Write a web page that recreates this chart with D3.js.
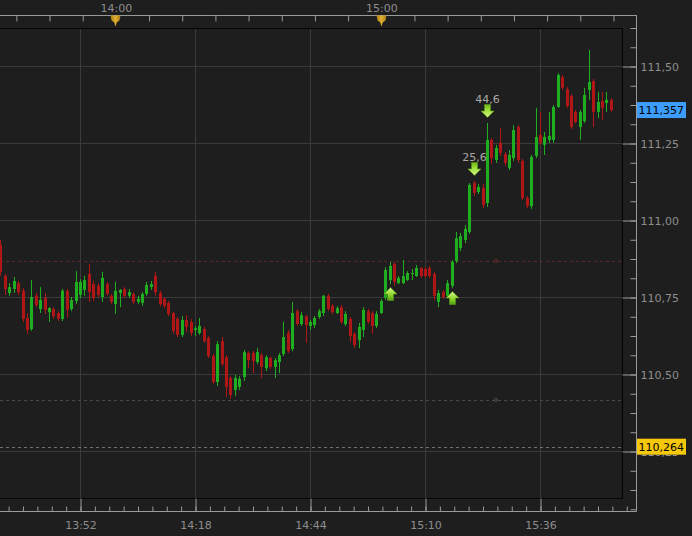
<!DOCTYPE html>
<html><head><meta charset="utf-8">
<script src="https://cdn.jsdelivr.net/npm/d3@7/dist/d3.min.js"></script>
<style>
html,body{margin:0;padding:0;background:#1e1e1e;overflow:hidden;}
svg{display:block;}
</style></head><body>
<svg id="chart" width="692" height="536"></svg>
<script>
// ---------- DATA ----------
const firstBar = "13:34";           // one-minute candles
const open = [
110.919,110.819,110.763,110.776,110.795,110.770,110.682,110.646,110.754,110.711,
110.747,110.701,110.711,110.698,110.679,110.770,110.711,110.737,110.757,110.773,
110.825,110.792,110.786,110.750,110.792,110.754,110.727,110.763,110.776,110.754,
110.760,110.734,110.731,110.760,110.782,110.819,110.763,110.744,110.731,110.698,
110.679,110.627,110.675,110.669,110.643,110.633,110.646,110.617,110.558,110.474,
110.607,110.555,110.487,110.448,110.458,110.490,110.568,110.568,110.539,110.561,
110.519,110.552,110.523,110.539,110.565,110.633,110.581,110.704,110.662,110.688,
110.656,110.659,110.685,110.698,110.754,110.721,110.698,110.717,110.662,110.679,
110.630,110.610,110.643,110.704,110.698,110.656,110.698,110.747,110.805,110.857,
110.795,110.795,110.805,110.825,110.818,110.844,110.841,110.844,110.825,110.734,
110.766,110.754,110.786,110.867,110.909,110.935,110.961,111.120,111.091,111.104,
111.055,111.260,111.195,111.250,111.214,111.169,111.201,111.302,111.192,111.071,
111.045,111.208,111.276,111.244,111.260,111.260,111.367,111.464,111.425,111.403,
111.351,111.302,111.321,111.422,111.451,111.351,111.386,111.380,111.390
];
const high = [
110.935,110.825,110.795,110.815,110.802,110.779,110.698,110.805,110.763,110.782,
110.763,110.717,110.717,110.704,110.776,110.776,110.750,110.834,110.808,110.819,
110.857,110.802,110.795,110.832,110.799,110.760,110.799,110.776,110.782,110.776,
110.766,110.754,110.766,110.799,110.802,110.832,110.770,110.750,110.737,110.701,
110.685,110.688,110.691,110.679,110.656,110.682,110.653,110.623,110.565,110.607,
110.620,110.561,110.493,110.497,110.493,110.578,110.574,110.574,110.584,110.568,
110.561,110.558,110.552,110.568,110.669,110.643,110.734,110.711,110.701,110.691,
110.675,110.688,110.711,110.757,110.760,110.727,110.721,110.724,110.704,110.685,
110.636,110.666,110.717,110.711,110.704,110.704,110.744,110.847,110.864,110.864,
110.818,110.870,110.834,110.841,110.854,110.847,110.847,110.851,110.832,110.773,
110.773,110.805,110.870,110.961,110.958,110.984,111.120,111.127,111.117,111.117,
111.315,111.266,111.244,111.299,111.221,111.227,111.308,111.308,111.198,111.078,
111.211,111.364,111.351,111.286,111.351,111.373,111.477,111.471,111.432,111.409,
111.357,111.357,111.429,111.552,111.458,111.416,111.416,111.416,111.396
];
const low = [
110.819,110.757,110.754,110.763,110.757,110.669,110.630,110.640,110.717,110.698,
110.695,110.669,110.679,110.672,110.672,110.682,110.704,110.727,110.747,110.754,
110.734,110.737,110.750,110.734,110.754,110.727,110.695,110.717,110.747,110.747,
110.727,110.727,110.721,110.754,110.773,110.754,110.721,110.714,110.688,110.630,
110.620,110.620,110.636,110.623,110.623,110.627,110.601,110.552,110.468,110.461,
110.526,110.425,110.419,110.429,110.448,110.477,110.519,110.503,110.532,110.487,
110.510,110.516,110.487,110.503,110.558,110.568,110.574,110.656,110.656,110.601,
110.643,110.649,110.679,110.688,110.704,110.695,110.695,110.662,110.656,110.604,
110.584,110.584,110.620,110.662,110.630,110.649,110.695,110.740,110.792,110.786,
110.792,110.792,110.802,110.805,110.815,110.812,110.812,110.812,110.740,110.717,
110.744,110.747,110.779,110.860,110.899,110.925,110.955,111.078,111.084,111.039,
111.042,111.182,111.185,111.208,111.175,111.162,111.192,111.185,111.065,111.039,
111.036,111.201,111.244,111.211,111.250,111.250,111.364,111.422,111.364,111.295,
111.312,111.260,111.315,111.390,111.302,111.331,111.325,111.351,111.351
];
const close = [
110.832,110.776,110.782,110.802,110.766,110.679,110.643,110.750,110.724,110.740,
110.708,110.714,110.688,110.679,110.770,110.708,110.740,110.799,110.799,110.805,
110.766,110.747,110.757,110.812,110.760,110.734,110.770,110.773,110.754,110.766,
110.734,110.744,110.760,110.789,110.792,110.766,110.727,110.721,110.695,110.640,
110.627,110.675,110.653,110.633,110.649,110.656,110.607,110.558,110.474,110.597,
110.532,110.458,110.432,110.487,110.484,110.571,110.545,110.542,110.571,110.523,
110.555,110.523,110.545,110.561,110.620,110.574,110.698,110.662,110.691,110.659,
110.669,110.682,110.704,110.754,110.711,110.701,110.714,110.669,110.695,110.623,
110.594,110.653,110.708,110.669,110.656,110.695,110.737,110.838,110.851,110.799,
110.812,110.818,110.828,110.828,110.844,110.818,110.818,110.818,110.754,110.763,
110.750,110.795,110.864,110.941,110.948,110.971,111.114,111.088,111.107,111.049,
111.260,111.201,111.234,111.218,111.185,111.211,111.292,111.195,111.071,111.045,
111.205,111.270,111.250,111.270,111.273,111.367,111.471,111.429,111.370,111.302,
111.318,111.351,111.406,111.448,111.351,111.383,111.364,111.390,111.357
];
const priceTicks = [110.25, 110.50, 110.75, 111.00, 111.25, 111.50];
const bottomTickLabels = ["13:52", "14:18", "14:44", "15:10", "15:36"];
const topTickLabels = ["14:00", "15:00"];
const lastPrice = 111.357;
const markedPrice = 110.264;
const redLevel = 110.867;
const greyLevel = 110.416;
const levelMarkerBar = 112;
const signalBar = [88, 102, 107, 110];
const signalType = ["up", "up", "down", "down"];
const signalText = ["", "", "25,6", "44,6"];

// ---------- SETUP ----------
const W = 692, H = 536;
const plot = {left: 0, top: 28, right: 622, bottom: 498};
const axisTopY = 15, axisRightX = 636, axisBottomY = 511;
const axisColor = "#9a9a9a", textColor = "#8d8d8d", gridColor = "#3a3a3a";
const upColor = "#1fae1f", downColor = "#b01616";
const font = "DejaVu Sans, Verdana, sans-serif";

const parseHM = d3.timeParse("%H:%M");
const fmtHM = d3.timeFormat("%H:%M");
const t0 = parseHM(firstBar);
const bars = open.map((o, i) => ({
  t: d3.timeMinute.offset(t0, i), o, h: high[i], l: low[i], c: close[i]
}));

const majorTimes = bottomTickLabels.map(parseHM);
const x = d3.scaleTime().domain([majorTimes[0], majorTimes[majorTimes.length - 1]]).range([80, 540]);
const y = d3.scaleLinear().domain([priceTicks[0], priceTicks[priceTicks.length - 1]]).range([451, 66]);

const svg = d3.select("#chart");
svg.append("rect").attr("width", W).attr("height", H).attr("fill", "#1e1e1e");

const defs = svg.append("defs");
defs.append("clipPath").attr("id", "clip").append("rect")
  .attr("x", plot.left).attr("y", plot.top).attr("width", plot.right - plot.left).attr("height", plot.bottom - plot.top);
const gUp = defs.append("linearGradient").attr("id", "gUp").attr("x1", 0).attr("y1", 0).attr("x2", 0).attr("y2", 1);
gUp.append("stop").attr("offset", "0%").attr("stop-color", "#d9f98e");
gUp.append("stop").attr("offset", "55%").attr("stop-color", "#8fd52c");
gUp.append("stop").attr("offset", "100%").attr("stop-color", "#4f9e12");
const gDn = defs.append("linearGradient").attr("id", "gDn").attr("x1", 0).attr("y1", 0).attr("x2", 0).attr("y2", 1);
gDn.append("stop").attr("offset", "0%").attr("stop-color", "#6cb51a");
gDn.append("stop").attr("offset", "45%").attr("stop-color", "#9ee03a");
gDn.append("stop").attr("offset", "100%").attr("stop-color", "#d4f58a");
const gGold = defs.append("linearGradient").attr("id", "gGold").attr("x1", 0).attr("y1", 0).attr("x2", 1).attr("y2", 0);
gGold.append("stop").attr("offset", "0%").attr("stop-color", "#a87a10");
gGold.append("stop").attr("offset", "50%").attr("stop-color", "#e0b030");
gGold.append("stop").attr("offset", "100%").attr("stop-color", "#a87a10");

// ---------- GRID ----------
const grid = svg.append("g");
grid.selectAll("line.h").data(priceTicks).join("line")
  .attr("x1", plot.left).attr("x2", plot.right)
  .attr("y1", d => Math.round(y(d)) + 0.5).attr("y2", d => Math.round(y(d)) + 0.5)
  .attr("stroke", gridColor);
grid.selectAll("line.v").data(majorTimes).join("line")
  .attr("x1", d => Math.round(x(d)) + 0.5).attr("x2", d => Math.round(x(d)) + 0.5)
  .attr("y1", plot.top).attr("y2", plot.bottom)
  .attr("stroke", gridColor);

// reference levels
const lv = svg.append("g").attr("clip-path", "url(#clip)");
function level(p, color) {
  const yy = Math.round(y(p)) + 0.5;
  lv.append("line").attr("x1", plot.left).attr("x2", plot.right).attr("y1", yy).attr("y2", yy)
    .attr("stroke", color).attr("stroke-dasharray", "3,3");
}
level(redLevel, "#5a2a2a");
level(greyLevel, "#4a4a4a");
level(markedPrice, "#707070");
[[redLevel, "#6a3030"], [greyLevel, "#555"]].forEach(([p, c]) => {
  lv.append("circle").attr("cx", x(bars[levelMarkerBar].t)).attr("cy", y(p)).attr("r", 1.6)
    .attr("fill", "none").attr("stroke", c);
});

// ---------- CANDLES ----------
const cg = svg.append("g").attr("clip-path", "url(#clip)");
const cand = cg.selectAll("g.c").data(bars).join("g");
cand.append("line")
  .attr("x1", d => Math.round(x(d.t)) + 0.5).attr("x2", d => Math.round(x(d.t)) + 0.5)
  .attr("y1", d => y(d.h)).attr("y2", d => y(d.l))
  .attr("stroke", d => d.c >= d.o ? upColor : downColor).attr("stroke-width", 1);
cand.append("rect")
  .attr("x", d => Math.round(x(d.t)) - 1).attr("width", 3)
  .attr("y", d => y(Math.max(d.o, d.c)))
  .attr("height", d => Math.max(1.2, Math.abs(y(d.o) - y(d.c))))
  .attr("fill", d => d.c >= d.o ? upColor : downColor);

// ---------- SIGNALS ----------
const sg = svg.append("g");
const upPath = "M0,0 L6.5,6.5 L3,6.5 L3,13 L-3,13 L-3,6.5 L-6.5,6.5 Z";
const dnPath = "M0,0 L6.5,-6.5 L3,-6.5 L3,-13 L-3,-13 L-3,-6.5 L-6.5,-6.5 Z";
signalBar.forEach((bi, k) => {
  const b = bars[bi];
  const cx = Math.round(x(b.t)) + 0.5;
  if (signalType[k] === "up") {
    const top = y(b.l) + 3.5;
    sg.append("path").attr("d", upPath).attr("transform", `translate(${cx},${top})`)
      .attr("fill", "url(#gUp)").attr("stroke", "#5a9a18").attr("stroke-width", 0.6);
  } else {
    const tip = y(b.h) - 5.5;
    sg.append("path").attr("d", dnPath).attr("transform", `translate(${cx},${tip})`)
      .attr("fill", "url(#gDn)").attr("stroke", "#5a9a18").attr("stroke-width", 0.6);
    sg.append("text").attr("x", cx).attr("y", tip - 14.5).attr("text-anchor", "middle")
      .attr("font-family", font).attr("font-size", 11).attr("fill", "#a8a8a8")
      .text(signalText[k]);
  }
});

// ---------- PLOT FRAME ----------
const fr = svg.append("g").attr("stroke", "#050505").attr("stroke-width", 1.2).attr("fill", "none");
fr.append("line").attr("x1", 0).attr("x2", plot.right + 0.5).attr("y1", plot.top + 0.5).attr("y2", plot.top + 0.5);
fr.append("line").attr("x1", plot.right + 0.5).attr("x2", plot.right + 0.5).attr("y1", plot.top).attr("y2", plot.bottom + 0.5);
fr.append("line").attr("x1", 0).attr("x2", plot.right + 0.5).attr("y1", plot.bottom + 0.5).attr("y2", plot.bottom + 0.5);

// ---------- AXES ----------
function styleAxis(g) {
  g.select(".domain").remove();
  g.selectAll(".tick line").attr("stroke", axisColor);
  g.selectAll(".tick text").attr("fill", textColor).attr("font-family", font).attr("font-size", 11);
}
// axis lines
const al = svg.append("g").attr("stroke", axisColor).attr("stroke-width", 1);
al.append("line").attr("x1", 0).attr("x2", axisRightX + 0.5).attr("y1", axisTopY + 0.5).attr("y2", axisTopY + 0.5);
al.append("line").attr("x1", axisRightX + 0.5).attr("x2", axisRightX + 0.5).attr("y1", axisTopY).attr("y2", axisBottomY + 0.5);
al.append("line").attr("x1", 0).attr("x2", axisRightX + 0.5).attr("y1", axisBottomY + 0.5).attr("y2", axisBottomY + 0.5);

// bottom axis: minor ticks (8 per 26 min), majors with labels
const stepMin = (majorTimes[1] - majorTimes[0]) / 8;
const xMinT = x.invert(0), xMaxT = x.invert(axisRightX - 2);
const bottomMinor = [];
for (let t = +majorTimes[0]; t >= +xMinT; t -= stepMin) bottomMinor.push(new Date(t));
for (let t = +majorTimes[0] + stepMin; t <= +xMaxT; t += stepMin) bottomMinor.push(new Date(t));
const bMinor = svg.append("g").attr("transform", `translate(0.5,${axisBottomY + 0.5})`)
  .call(d3.axisBottom(x).tickValues(bottomMinor).tickSize(-5).tickFormat(""));
styleAxis(bMinor);
const bMajor = svg.append("g").attr("transform", `translate(0.5,${axisBottomY + 0.5})`)
  .call(d3.axisBottom(x).tickValues(majorTimes).tickSize(-13).tickPadding(10).tickFormat(fmtHM));
styleAxis(bMajor);

// top axis: ticks every 7.5 min, labels at full hours
const topLabelTimes = topTickLabels.map(parseHM);
const topStep = (topLabelTimes[1] - topLabelTimes[0]) / 8;
const topTicks = [];
for (let t = +topLabelTimes[0]; t >= +x.invert(2); t -= topStep) topTicks.push(new Date(t));
for (let t = +topLabelTimes[0] + topStep; t <= +x.invert(plot.right - 2); t += topStep) topTicks.push(new Date(t));
const tAx = svg.append("g").attr("transform", `translate(0.5,${axisTopY + 0.5})`)
  .call(d3.axisTop(x).tickValues(topTicks).tickSize(-6).tickPadding(4)
    .tickFormat(d => topLabelTimes.some(t => +t === +d) ? fmtHM(d) : ""));
styleAxis(tAx);
// gold session markers
svg.append("g").selectAll("path").data(topLabelTimes).join("path")
  .attr("d", d => { const cx = Math.round(x(d)) + 0.5; const t = axisTopY + 0.5;
    return `M${cx - 5},${t} L${cx + 5},${t} L${cx + 4},${t + 5} L${cx + 1.2},${t + 7} L${cx},${t + 11} L${cx - 1.2},${t + 7} L${cx - 4},${t + 5} Z`; })
  .attr("fill", "url(#gGold)");

// right axis
const pFmt = d => d3.format(".2f")(d).replace(".", ",");
const minorStep = (priceTicks[1] - priceTicks[0]) / 4;
const rightMinor = [];
const pMin = y.invert(axisBottomY - 2), pMax = y.invert(axisTopY + 2);
for (let p = priceTicks[0]; p >= pMin; p -= minorStep) rightMinor.push(p);
for (let p = priceTicks[0] + minorStep; p <= pMax; p += minorStep) rightMinor.push(p);
const rMinor = svg.append("g").attr("transform", `translate(${axisRightX + 0.5},0.5)`)
  .call(d3.axisRight(y).tickValues(rightMinor).tickSize(-6).tickFormat(""));
styleAxis(rMinor);
const rMajor = svg.append("g").attr("transform", `translate(${axisRightX + 0.5},0.5)`)
  .call(d3.axisRight(y).tickValues(priceTicks).tickSize(-14).tickPadding(4).tickFormat(pFmt));
styleAxis(rMajor);

// price labels
function priceTag(p, fill, txt) {
  const yy = y(p);
  svg.append("rect").attr("x", axisRightX + 1).attr("y", yy - 8).attr("width", 49).attr("height", 16).attr("fill", fill);
  svg.append("text").attr("x", axisRightX + 2.5).attr("y", yy).attr("dy", "0.35em")
    .attr("font-family", font).attr("font-size", 11).attr("fill", "#000").text(txt);
}
priceTag(lastPrice, "#3d9dfb", d3.format(".3f")(lastPrice).replace(".", ","));
priceTag(markedPrice, "#f6c80a", d3.format(".3f")(markedPrice).replace(".", ","));
</script>
</body></html>
